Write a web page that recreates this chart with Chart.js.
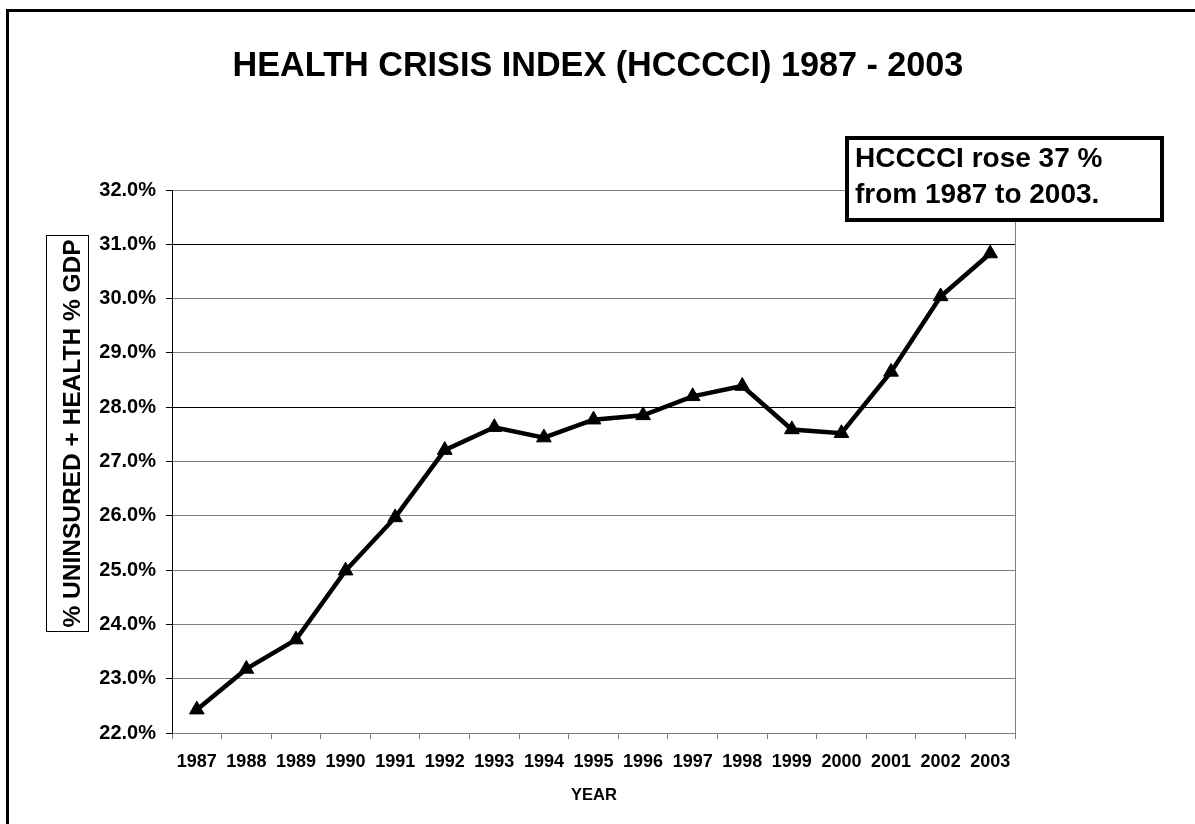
<!DOCTYPE html>
<html>
<head>
<meta charset="utf-8">
<title>Health Crisis Index</title>
<script src="https://cdn.jsdelivr.net/npm/chart.js@4/dist/chart.umd.min.js"></script>
<style>
    html, body { margin: 0; padding: 0; background: #fff; }
    #chart-wrap { position: relative; width: 1195px; height: 824px; }
</style>
</head>
<body>
<div id="chart-wrap"><canvas id="hcccci-canvas"></canvas></div>
<script>
// ============================================================
// DATA
// ============================================================
const years = ['1987', '1988', '1989', '1990', '1991', '1992', '1993', '1994', '1995',
               '1996', '1997', '1998', '1999', '2000', '2001', '2002', '2003'];

// % uninsured + health % of GDP
const hcccciValues = [22.43, 23.18, 23.72, 24.99, 25.97, 27.21, 27.63, 27.44, 27.77,
                      27.85, 28.20, 28.39, 27.59, 27.52, 28.65, 30.04, 30.83];

const yMin = 22;
const yMax = 32;
const yStep = 1;

const chartTitle = 'HEALTH CRISIS INDEX (HCCCCI) 1987 - 2003';
const yAxisTitle = '% UNINSURED + HEALTH % GDP';
const xAxisTitle = 'YEAR';
const noteLines = ['HCCCCI rose 37 %', 'from 1987 to 2003.'];

const FONT = '"Liberation Sans", Arial, Helvetica, sans-serif';

// ============================================================
// DECORATIONS — frame, title, boxed y title, note box
// ============================================================
const decorPlugin = {
    id: 'decor',
    beforeDatasetsDraw(chart) {
        const { ctx, chartArea } = chart;
        // grey plot-area border on the right
        ctx.save();
        ctx.strokeStyle = '#808080';
        ctx.lineWidth = 1;
        ctx.beginPath();
        ctx.moveTo(Math.round(chartArea.right) + 0.5, chartArea.top);
        ctx.lineTo(Math.round(chartArea.right) + 0.5, chartArea.bottom);
        ctx.stroke();
        ctx.restore();
    },
    afterDraw(chart) {
        const { ctx, width, height } = chart;
        ctx.save();

        // outer frame (left + top only visible)
        ctx.strokeStyle = '#000';
        ctx.lineWidth = 3;
        ctx.beginPath();
        ctx.moveTo(7.5, height + 5);
        ctx.lineTo(7.5, 10.5);
        ctx.lineTo(width + 5, 10.5);
        ctx.stroke();

        // main title
        ctx.fillStyle = '#000';
        ctx.font = `bold 34.2px ${FONT}`;
        ctx.textAlign = 'center';
        ctx.textBaseline = 'middle';
        ctx.fillText(chartTitle, 598, 67);

        // x axis title
        ctx.font = `bold 16.5px ${FONT}`;
        ctx.fillText(xAxisTitle, 594, 795);

        // boxed y axis title
        ctx.lineWidth = 1;
        ctx.strokeRect(46.5, 235.5, 42, 396);
        ctx.save();
        ctx.translate(72.5, 433.5);
        ctx.rotate(-Math.PI / 2);
        ctx.font = `bold 24.5px ${FONT}`;
        ctx.fillText(yAxisTitle, 0, 1);
        ctx.restore();

        // annotation box
        ctx.fillStyle = '#fff';
        ctx.fillRect(845, 136, 319, 86);
        ctx.lineWidth = 4;
        ctx.strokeStyle = '#000';
        ctx.strokeRect(847, 138, 315, 82);
        ctx.fillStyle = '#000';
        ctx.font = `bold 28px ${FONT}`;
        ctx.textAlign = 'left';
        noteLines.forEach((line, i) => ctx.fillText(line, 855, 159 + i * 36));

        ctx.restore();
    }
};

// ============================================================
// CHART
// ============================================================
function buildChart() {
    const ctx = document.getElementById('hcccci-canvas').getContext('2d');
    return new Chart(ctx, {
        type: 'line',
        data: {
            labels: years,
            datasets: [{
                label: 'HCCCCI',
                data: hcccciValues,
                borderColor: '#000',
                borderWidth: 4.5,
                pointStyle: 'triangle',
                pointRadius: 8.5,
                pointBackgroundColor: '#000',
                pointBorderColor: '#000',
                pointBorderWidth: 1,
                tension: 0,
                fill: false
            }]
        },
        options: {
            responsive: true,
            maintainAspectRatio: false,
            animation: false,
            layout: { padding: { top: 190, right: 180, bottom: 0, left: 0 } },
            plugins: {
                legend: { display: false },
                tooltip: { enabled: false }
            },
            scales: {
                x: {
                    offset: true,
                    afterFit: scale => { scale.height = 91; },
                    grid: {
                        offset: true,
                        drawOnChartArea: false,
                        tickLength: 6,
                        tickColor: '#808080'
                    },
                    border: { color: '#808080', width: 1 },
                    ticks: {
                        color: '#000',
                        padding: 12,
                        maxRotation: 0,
                        autoSkip: false,
                        font: { family: FONT, size: 18, weight: 'bold' }
                    }
                },
                y: {
                    min: yMin,
                    max: yMax,
                    afterFit: scale => { scale.width = 172; },
                    grid: {
                        // two of the gridlines render darker in the original
                        color: c => (c.tick && (c.tick.value === 28 || c.tick.value === 31)) ? '#000' : '#808080',
                        tickColor: '#000',
                        tickLength: 6
                    },
                    border: { color: '#000', width: 1 },
                    ticks: {
                        stepSize: yStep,
                        color: '#000',
                        padding: 10,
                        font: { family: FONT, size: 20, weight: 'bold' },
                        callback: v => `${v.toFixed(1)}%`
                    }
                }
            }
        },
        plugins: [decorPlugin]
    });
}

// ============================================================
// INIT
// ============================================================
document.addEventListener('DOMContentLoaded', buildChart);
</script>
</body>
</html>
